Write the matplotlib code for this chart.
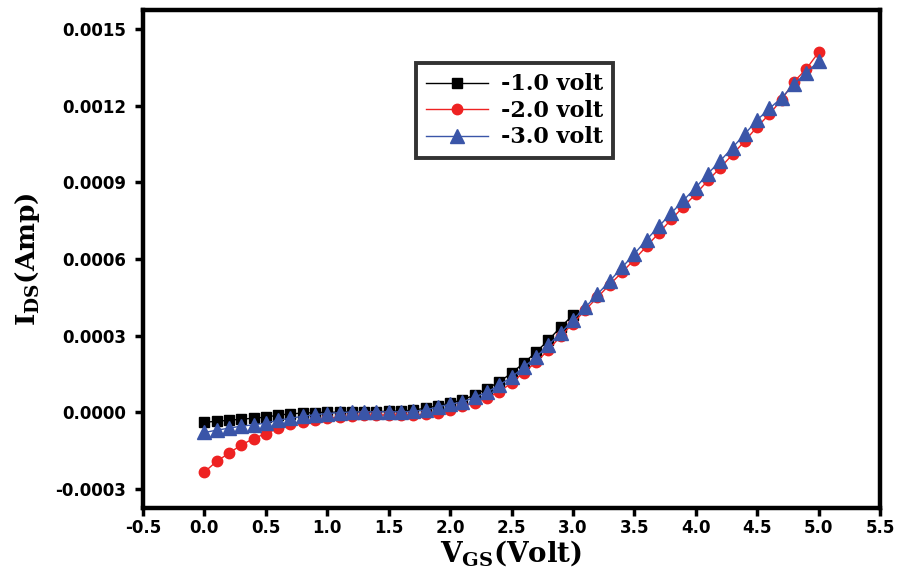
import matplotlib
matplotlib.use("Agg")
import matplotlib.pyplot as plt
from matplotlib.ticker import FixedLocator, FuncFormatter

plt.rcParams['mathtext.fontset'] = 'dejavuserif'

vgs = [0.0, 0.1, 0.2, 0.3, 0.4, 0.5, 0.6, 0.7, 0.8, 0.9,
       1.0, 1.1, 1.2, 1.3, 1.4, 1.5, 1.6, 1.7, 1.8, 1.9,
       2.0, 2.1, 2.2, 2.3, 2.4, 2.5, 2.6, 2.7, 2.8, 2.9,
       3.0, 3.1, 3.2, 3.3, 3.4, 3.5, 3.6, 3.7, 3.8, 3.9,
       4.0, 4.1, 4.2, 4.3, 4.4, 4.5, 4.6, 4.7, 4.8, 4.9, 5.0]

ids_m1 = [-4.0e-5, -3.6e-5, -3.2e-5, -2.8e-5, -2.4e-5, -2.0e-5, -1.2e-5, -7e-6, -4e-6, -2e-6,
          -1e-6, 0.0, 1e-6, 2e-6, 2e-6, 3e-6, 4e-6, 8e-6, 1.5e-5, 2.5e-5,
          3.5e-5, 4.8e-5, 6.7e-5, 9.2e-5, 1.18e-4, 1.53e-4, 1.92e-4, 2.35e-4, 2.82e-4, 3.33e-4,
          3.80e-4]

ids_m2 = [-2.35e-4, -1.93e-4, -1.61e-4, -1.29e-4, -1.04e-4, -8.4e-5, -6.4e-5, -4.7e-5, -3.9e-5, -3.1e-5,
          -2.5e-5, -2.0e-5, -1.6e-5, -1.3e-5, -1.2e-5, -1.1e-5, -1.1e-5, -1.0e-5, -9e-6, -2e-6,
          8e-6, 2.2e-5, 3.7e-5, 5.7e-5, 7.8e-5, 1.15e-4, 1.55e-4, 1.96e-4, 2.43e-4, 2.98e-4,
          3.47e-4, 4.0e-4, 4.50e-4, 5.0e-4, 5.48e-4, 5.98e-4, 6.50e-4, 7.02e-4, 7.55e-4, 8.05e-4,
          8.55e-4, 9.08e-4, 9.58e-4, 1.010e-3, 1.063e-3, 1.118e-3, 1.168e-3, 1.225e-3, 1.295e-3, 1.345e-3,
          1.41e-3]

ids_m3 = [-8.0e-5, -7.1e-5, -6.3e-5, -5.5e-5, -5.0e-5, -4.3e-5, -3.2e-5, -2.4e-5, -1.7e-5, -1.0e-5,
          -6e-6, -2e-6, 0.0, 1e-6, 1e-6, 1e-6, 1e-6, 3e-6, 8e-6, 2.0e-5,
          3.1e-5, 3.9e-5, 5.9e-5, 7.8e-5, 1.06e-4, 1.37e-4, 1.76e-4, 2.16e-4, 2.63e-4, 3.10e-4,
          3.61e-4, 4.10e-4, 4.62e-4, 5.14e-4, 5.67e-4, 6.20e-4, 6.76e-4, 7.28e-4, 7.80e-4, 8.30e-4,
          8.80e-4, 9.35e-4, 9.85e-4, 1.037e-3, 1.09e-3, 1.145e-3, 1.19e-3, 1.232e-3, 1.285e-3, 1.33e-3,
          1.375e-3]

labels = ['-1.0 volt', '-2.0 volt', '-3.0 volt']
xticks = [-0.5, 0.0, 0.5, 1.0, 1.5, 2.0, 2.5, 3.0, 3.5, 4.0, 4.5, 5.0, 5.5]
yticks = [-0.0003, 0.0, 0.0003, 0.0006, 0.0009, 0.0012, 0.0015]

fig = plt.figure(figsize=(8.97, 5.78), dpi=100)
ax = fig.add_axes([143/897, 1-508/578, (880-143)/897, (508-10)/578])

ax.plot(vgs[:len(ids_m1)], ids_m1, color='black', marker='s', markersize=7, lw=1,
        label=labels[0])
ax.plot(vgs, ids_m2, color='#ee2222', marker='o', markersize=7.5, lw=1,
        label=labels[1])
ax.plot(vgs, ids_m3, color='#3a55a8', marker='^', markersize=10, lw=1,
        label=labels[2])

ax.set_xlim(-0.5, 5.5)
ax.set_ylim(-0.000376, 0.001576)
ax.xaxis.set_major_locator(FixedLocator(xticks))
ax.yaxis.set_major_locator(FixedLocator(yticks))
ax.xaxis.set_major_formatter(FuncFormatter(lambda v, p: f"{v:.1f}"))
ax.yaxis.set_major_formatter(FuncFormatter(lambda v, p: f"{v:.4f}"))

for s in ax.spines.values():
    s.set_linewidth(3.2)
ax.tick_params(direction='out', length=6, width=2.5, labelsize=12)
ax.tick_params(axis='x', pad=2)
ax.tick_params(axis='y', pad=6)
for lab in ax.get_xticklabels() + ax.get_yticklabels():
    lab.set_fontweight('bold')
    lab.set_family('DejaVu Sans')

ax.set_xlabel(r'V$_{\mathbf{GS}}$(Volt)', fontsize=20, fontweight='bold',
              family='DejaVu Serif', labelpad=1)
ax.set_ylabel(r'I$_{\mathbf{DS}}$(Amp)', fontsize=19, fontweight='bold',
              family='DejaVu Serif', labelpad=10)

leg = ax.legend(loc='upper left', bbox_to_anchor=(0.355, 0.915), frameon=True,
                fancybox=False, edgecolor='black', handlelength=2.8,
                prop={'family': 'DejaVu Serif', 'weight': 'bold', 'size': 16},
                borderpad=0.45, labelspacing=0.2, handletextpad=0.6)
leg.get_frame().set_linewidth(2.8)

fig.savefig('out.png', dpi=100)
